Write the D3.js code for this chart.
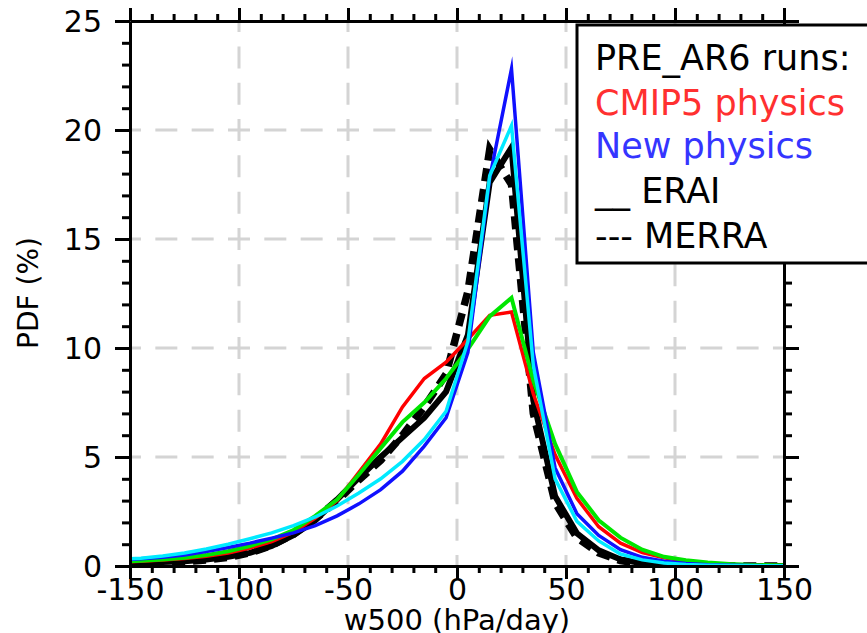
<!DOCTYPE html>
<html><head><meta charset="utf-8">
<script src="https://cdn.jsdelivr.net/npm/d3@7"></script>
<style>body{margin:0;background:#fff;} svg{display:block;}</style>
</head><body>
<svg id="c" width="867" height="633"></svg>
<script>
// w500 bin centres (hPa/day), plus the two plot edges
const w500 = [-150,-145,-135,-125,-115,-105,-95,-85,-75,-65,-55,-45,-35,-25,-15,-5,5,15,25,35,45,55,65,75,85,95,105,115,125,135,145,150];
// PDF (%) values
const cmip5Red   = [0.2,0.22,0.27,0.34,0.45,0.6,0.82,1.12,1.55,2.2,3.0,4.3,5.6,7.3,8.6,9.35,10.4,11.5,11.65,7.9,5.1,3.1,1.8,1.05,0.62,0.38,0.22,0.12,0.07,0.04,0.02,0.02];
const cmip5Green = [0.22,0.24,0.3,0.38,0.5,0.68,0.92,1.22,1.65,2.3,3.05,4.2,5.4,6.6,7.5,8.6,9.95,11.45,12.3,8.5,5.6,3.4,2.1,1.3,0.75,0.42,0.26,0.16,0.09,0.05,0.03,0.03];
const newBlue    = [0.3,0.33,0.4,0.5,0.66,0.85,1.05,1.28,1.52,1.85,2.3,2.85,3.5,4.35,5.5,6.8,9.8,17.8,22.8,9.8,4.5,2.4,1.4,0.75,0.4,0.22,0.12,0.06,0.03,0.02,0.01,0.01];
const newCyan    = [0.33,0.36,0.46,0.6,0.78,1.0,1.25,1.52,1.85,2.25,2.75,3.35,4.0,4.8,5.8,7.1,10.3,17.9,20.2,9.2,4.0,2.05,1.15,0.55,0.28,0.14,0.07,0.04,0.02,0.01,0.01,0.01];
const erai       = [0.15,0.16,0.18,0.22,0.3,0.42,0.6,0.92,1.42,2.1,3.05,4.05,5.0,5.9,6.8,8.0,10.6,17.6,19.2,7.6,3.2,1.5,0.72,0.3,0.12,0.05,0.02,0.01,0.01,0,0,0];
const merra      = [0.12,0.13,0.15,0.2,0.28,0.4,0.6,0.95,1.45,2.15,3.0,3.95,4.85,6.0,7.3,8.8,12.6,19.1,17.5,7.0,2.9,1.3,0.6,0.25,0.1,0.04,0.02,0.01,0,0,0,0];

const xTicks = [-150,-100,-50,0,50,100,150];
const yTicks = [0,5,10,15,20,25];
const xGrid = [-100,-50,0,50,100];
const yGrid = [5,10,15,20];
const legendLines = [
  {text:"PRE_AR6 runs:", color:"#000000"},
  {text:"CMIP5 physics", color:"#ff3030"},
  {text:"New physics", color:"#3535ff"},
  {text:"__ ERAI", color:"#000000"},
  {text:"--- MERRA", color:"#000000"}
];

const L = 130, R = 784, T = 21, B = 566;
const svg = d3.select('#c');
const x = d3.scaleLinear().domain([-150,150]).range([L,R]);
const y = d3.scaleLinear().domain([0,25]).range([B,T]);
const FONT = "'DejaVu Sans', Verdana, sans-serif";
const fmt = d => String(d);

// grid
const grid = svg.append('g').attr('stroke','#d4d4d4').attr('stroke-width',3)
  .attr('stroke-dasharray','22,14.33').attr('stroke-dashoffset',11);
grid.selectAll('.gx').data(xGrid).join('line')
  .attr('x1',d=>x(d)).attr('x2',d=>x(d)).attr('y1',B).attr('y2',T);
grid.selectAll('.gy').data(yGrid).join('line')
  .attr('x1',L).attr('x2',R).attr('y1',d=>y(d)).attr('y2',d=>y(d));

// curves
svg.append('clipPath').attr('id','clip').append('rect')
  .attr('x',L).attr('y',0).attr('width',R-L).attr('height',B);
const line = d3.line().x((d,i)=>x(w500[i])).y(d=>y(d));
const curves = svg.append('g').attr('clip-path','url(#clip)').attr('fill','none')
  .attr('stroke-linejoin','miter').attr('stroke-miterlimit',12);
const series = [
  {v:merra, c:'#000000', w:7.5, dash:'13,8'},
  {v:erai, c:'#000000', w:6},
  {v:cmip5Red, c:'#ff0000', w:3.5},
  {v:cmip5Green, c:'#00e600', w:4},
  {v:newBlue, c:'#1010ff', w:3.5},
  {v:newCyan, c:'#00eaff', w:3.5}
];
series.forEach(s=>{
  curves.append('path').attr('d',line(s.v)).attr('stroke',s.c).attr('stroke-width',s.w)
    .attr('stroke-dasharray',s.dash||null);
});

// axes
function styleAxis(g){
  g.selectAll('path,line').attr('stroke','#000').attr('stroke-width',3);
  g.selectAll('text').attr('font-family',FONT).attr('font-size',30).attr('fill','#000');
}
const minorX = d3.range(-150,151,10);
const minorY = d3.range(0,25.01,1);

const gB = svg.append('g').attr('transform',`translate(0,${B})`)
  .call(d3.axisBottom(x).tickValues(minorX).tickSize(7).tickSizeOuter(0).tickFormat(''));
styleAxis(gB);
const gB2 = svg.append('g').attr('transform',`translate(0,${B})`)
  .call(d3.axisBottom(x).tickValues(xTicks).tickSize(13).tickSizeOuter(0).tickFormat(fmt));
styleAxis(gB2);
gB2.select('.domain').remove();
gB2.selectAll('text').attr('y',34).attr('dy',0);

const gT = svg.append('g').attr('transform',`translate(0,${T})`)
  .call(d3.axisTop(x).tickValues(minorX).tickSize(7).tickSizeOuter(0).tickFormat(''));
styleAxis(gT);
const gT2 = svg.append('g').attr('transform',`translate(0,${T})`)
  .call(d3.axisTop(x).tickValues(xTicks).tickSize(13).tickSizeOuter(0).tickFormat(''));
styleAxis(gT2); gT2.select('.domain').remove();

const gL = svg.append('g').attr('transform',`translate(${L},0)`)
  .call(d3.axisLeft(y).tickValues(minorY).tickSize(8).tickSizeOuter(0).tickFormat(''));
styleAxis(gL);
const gL2 = svg.append('g').attr('transform',`translate(${L},0)`)
  .call(d3.axisLeft(y).tickValues(yTicks).tickSize(15).tickSizeOuter(0).tickPadding(13).tickFormat(fmt));
styleAxis(gL2); gL2.select('.domain').remove();
gL2.selectAll('text').attr('dy','0.36em');

const gR = svg.append('g').attr('transform',`translate(${R},0)`)
  .call(d3.axisRight(y).tickValues(minorY).tickSize(8).tickSizeOuter(0).tickFormat(''));
styleAxis(gR);
const gR2 = svg.append('g').attr('transform',`translate(${R},0)`)
  .call(d3.axisRight(y).tickValues(yTicks).tickSize(15).tickSizeOuter(0).tickFormat(''));
styleAxis(gR2); gR2.select('.domain').remove();

// axis titles
svg.append('text').attr('x',(L+R)/2).attr('y',630).attr('text-anchor','middle')
  .attr('font-family',FONT).attr('font-size',29).text('w500 (hPa/day)');
svg.append('text').attr('transform','translate(38,293) rotate(-90)').attr('text-anchor','middle')
  .attr('font-family',FONT).attr('font-size',28).text('PDF (%)');

// legend
const lg = svg.append('g');
lg.append('rect').attr('x',577).attr('y',25).attr('width',300).attr('height',238)
  .attr('fill','#fff').attr('stroke','#000').attr('stroke-width',3);
const baselines = [70,115,158,203,248];
lg.selectAll('text').data(legendLines).join('text')
  .attr('x',595).attr('y',(d,i)=>baselines[i])
  .attr('font-family',FONT).attr('font-size',35).attr('fill',d=>d.color)
  .attr('xml:space','preserve').style('white-space','pre')
  .text(d=>d.text);
</script>
</body></html>
